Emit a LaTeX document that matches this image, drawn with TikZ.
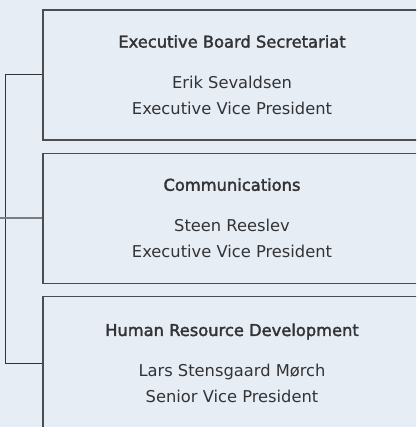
\documentclass[tikz,border=0pt]{standalone}
\usepackage{fontspec}
\setmainfont{DejaVu Sans}
\newfontfamily\headfont[FakeBold=2]{DejaVu Sans}
\usepackage{tikz}
\usetikzlibrary{positioning}

\definecolor{bgblue}{HTML}{E6EDF5}
\definecolor{boxline}{HTML}{4D4D4F}
\definecolor{linkgray}{HTML}{7D7D7F}
\definecolor{textgray}{HTML}{333335}

\begin{document}
\begin{tikzpicture}[x=1pt,y=-1pt]
\useasboundingbox (0,0) rectangle (416,427);
\clip (0,0) rectangle (416,427);
\fill[bgblue] (0,0) rectangle (416,427);

\begin{scope}[every node/.style={rectangle, draw=boxline, line width=1.2pt, fill=bgblue,
                text=textgray, minimum width=378pt, minimum height=130pt,
                inner sep=0pt, align=center, font=\fontsize{16.3}{26}\selectfont}]
  \node (secretariat) at (232,75) {{\headfont Executive Board Secretariat}\\[15pt]
      Erik Sevaldsen\\ Executive Vice President};
  \node[below=12pt of secretariat] (comms) {{\headfont Communications}\\[15pt]
      Steen Reeslev\\ Executive Vice President};
  % last box runs past the lower edge
  \node[below=12pt of comms, minimum height=134pt] (hrd) {{\headfont Human Resource Development}\\[15pt]
      Lars Stensgaard Mørch\\ Senior Vice President};
\end{scope}

\coordinate (entry) at (0,0);
\coordinate (trunk) at (5,0);
\begin{scope}[every path/.style={line width=1pt, draw=textgray}]
  \draw (secretariat.west) -- (secretariat.west -| trunk)
        -- (hrd.west -| trunk) -- (hrd.west);
\end{scope}
\draw[linkgray, line width=1.5pt] (comms.west) -- (comms.west -| entry);
\end{tikzpicture}
\end{document}
